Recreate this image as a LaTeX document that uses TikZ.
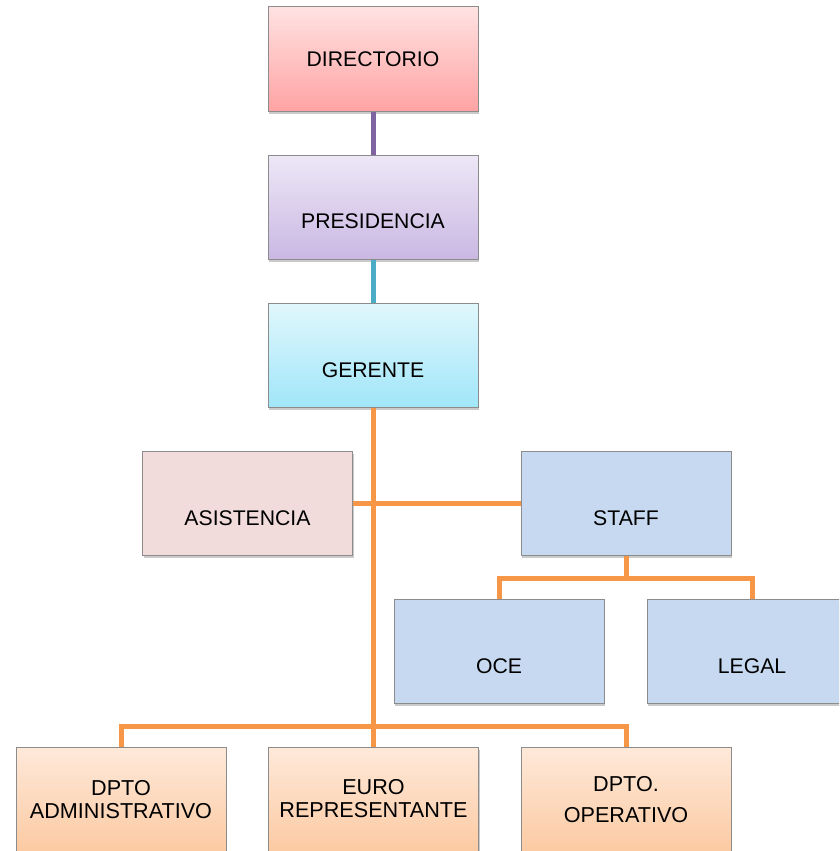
\documentclass[tikz,border=0pt]{standalone}
\usepackage{fontspec}
\setmainfont{Liberation Sans}
\usetikzlibrary{shadows}

\definecolor{lineorange}{RGB}{247,150,70}
\definecolor{linepurple}{RGB}{128,100,162}
\definecolor{lineteal}{RGB}{75,172,198}
\definecolor{boxedge}{RGB}{140,140,140}
\definecolor{dirtop}{RGB}{255,226,226}
\definecolor{dirbot}{RGB}{255,163,163}
\definecolor{prestop}{RGB}{237,231,246}
\definecolor{presbot}{RGB}{202,184,227}
\definecolor{gertop}{RGB}{225,247,252}
\definecolor{gerbot}{RGB}{160,230,249}
\definecolor{asisfill}{RGB}{242,220,219}
\definecolor{stafffill}{RGB}{198,217,240}
\definecolor{deptop}{RGB}{254,233,218}
\definecolor{depbot}{RGB}{251,190,140}

\tikzset{
  orgbox/.style={draw=boxedge, line width=1pt, minimum width=210pt,
    minimum height=104pt, inner sep=0pt,
    drop shadow={shadow xshift=1pt, shadow yshift=-3pt, opacity=0.35, fill=black!60}},
  wide/.style={orgbox, minimum height=124pt},
  lbl/.style={font=\fontsize{21.2}{24}\selectfont, inner sep=0pt, align=center},
  deplbl/.style={font=\fontsize{21.6}{23}\selectfont, inner sep=0pt, align=center},
  link/.style={line width=5pt}
}

\begin{document}
\begin{tikzpicture}[x=1pt,y=1pt]
\useasboundingbox (0,0) rectangle (839,-851);
\clip (0,0) rectangle (839,-851);

% boxes
\node[orgbox, top color=dirtop, bottom color=dirbot] (dir) at (373,-59) {};
\node[orgbox, top color=prestop, bottom color=presbot] (pres) at (373,-207) {};
\node[orgbox, top color=gertop, bottom color=gerbot] (ger) at (373,-355) {};
\node[orgbox, fill=asisfill] (asis) at (247.5,-503) {};
\node[orgbox, fill=stafffill] (staff) at (626,-503) {};
\node[orgbox, fill=stafffill] (oce) at (499,-651) {};
\node[orgbox, fill=stafffill] (legal) at (752,-651) {};
\node[wide, top color=deptop, bottom color=depbot!85!deptop] (adm) at (121,-809) {};
\node[wide, top color=deptop, bottom color=depbot!85!deptop] (euro) at (373.5,-809) {};
\node[wide, top color=deptop, bottom color=depbot!85!deptop] (oper) at (626,-809) {};

% labels
\node[lbl] (tdir) at (373,-59) {DIRECTORIO};
\node[lbl] (tpres) at (373,-221) {PRESIDENCIA};
\node[lbl] (tger) at (373,-370) {GERENTE};
\node[lbl] (tasis) at (247.5,-518) {ASISTENCIA};
\node[lbl] (tstaff) at (626,-518) {STAFF};
\node[lbl] (toce) at (499,-666) {OCE};
\node[lbl] (tlegal) at (752,-666) {LEGAL};
\node[deplbl] (tadm) at (121,-799.5) {DPTO\\ADMINISTRATIVO};
\node[deplbl] (teuro) at (373.5,-799) {EURO\\REPRESENTANTE};
\node[deplbl] (toper) at (626,-800) {DPTO.\\[8pt]OPERATIVO};

% junction points
\coordinate (bus) at (373,-726);
\coordinate (sbus) at (626,-578);

% connectors
\draw[link, linepurple] (dir.south) -- (pres.north);
\draw[link, lineteal] (pres.south) -- (ger.north);
\draw[link, lineorange] (asis.east) -- (staff.west);
\draw[link, lineorange] (ger.south) -- (bus);
\draw[link, lineorange] (bus) -- (bus |- euro.north);
\draw[link, lineorange] (adm.north) |- (bus) -| (oper.north);
\draw[link, lineorange] (staff.south) -- (sbus);
\draw[link, lineorange] (oce.north) |- (sbus) -| (legal.north);
\end{tikzpicture}
\end{document}
